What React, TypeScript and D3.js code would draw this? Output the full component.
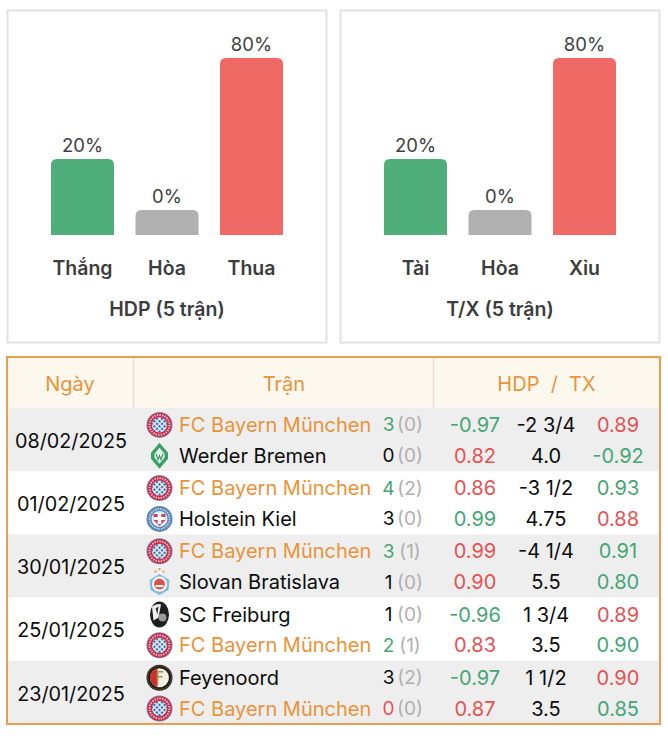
import React from 'react';
import * as d3 from 'd3';

const W = 668;
const H = 736;

const hdpLabels = ['Thắng', 'Hòa', 'Thua'];
const hdpValues = [20, 0, 80];
const txLabels = ['Tài', 'Hòa', 'Xỉu'];
const txValues = [20, 0, 80];
const barColors = ['#50ae7b', '#b0b0b0', '#ef6a65'];

const dates = ['08/02/2025', '01/02/2025', '30/01/2025', '25/01/2025', '23/01/2025'];
const homeTeams = ['FC Bayern München', 'FC Bayern München', 'FC Bayern München', 'SC Freiburg', 'Feyenoord'];
const awayTeams = ['Werder Bremen', 'Holstein Kiel', 'Slovan Bratislava', 'FC Bayern München', 'FC Bayern München'];
const homeGoals = [3, 4, 3, 1, 3];
const homeHalf = [0, 2, 1, 0, 2];
const awayGoals = [0, 3, 1, 2, 0];
const awayHalf = [0, 0, 0, 1, 0];
const homeOdds = ['-0.97', '0.86', '0.99', '-0.96', '-0.97'];
const homeLine = ['-2 3/4', '-3 1/2', '-4 1/4', '1 3/4', '1 1/2'];
const homeOver = ['0.89', '0.93', '0.91', '0.89', '0.90'];
const awayOdds = ['0.82', '0.99', '0.90', '0.83', '0.87'];
const awayLine = ['4.0', '4.75', '5.5', '3.5', '3.5'];
const awayOver = ['-0.92', '0.88', '0.80', '0.90', '0.85'];

const FONT = 'Inter, "Noto Sans", sans-serif';
const ORANGE = '#e9933a';
const GREEN = '#45a672';
const RED = '#e55252';
const INK = '#0c0c0c';
const BAYERN = 'FC Bayern München';

// cell colours
const homeGoalColors = [GREEN, GREEN, GREEN, INK, INK];
const awayGoalColors = [INK, INK, INK, GREEN, RED];
const homeOddsColors = [GREEN, RED, RED, GREEN, GREEN];
const homeOverColors = [RED, GREEN, GREEN, RED, RED];
const awayOddsColors = [RED, GREEN, RED, RED, RED];
const awayOverColors = [GREEN, RED, GREEN, GREEN, GREEN];

// tops, the empty bar keeps a minimum height
const barY = d3.scaleLinear().domain([0, 20, 80]).range([210, 159, 58]);
const BASE_Y = 235;

function BarPanel({ x, labels, values, title }: { x: number; labels: string[]; values: number[]; title: string }) {
  const band = d3.scaleBand<string>()
    .domain(labels.map((_, i) => String(i)))
    .range([x + 44, x + 276])
    .paddingInner(0.2544)
    .paddingOuter(0);
  return (
    <g fontFamily={FONT}>
      <rect x={x + 0.5} y={10.5} width={319} height={332} fill="#fff" stroke="#e2e2e2" strokeWidth={2} />
      {values.map((v, i) => {
        const bx = band(String(i))!;
        const bw = band.bandwidth();
        const top = barY(v);
        const r = 6;
        const cx = bx + bw / 2;
        return (
          <g key={i}>
            <path
              d={`M${bx},${BASE_Y}V${top + r}Q${bx},${top} ${bx + r},${top}H${bx + bw - r}Q${bx + bw},${top} ${bx + bw},${top + r}V${BASE_Y}Z`}
              fill={barColors[i]}
            />
            <text x={cx} y={top - 7} textAnchor="middle" fontSize={18.5} fill="#3f3f3f">{v}%</text>
            <text x={cx} y={275} textAnchor="middle" fontSize={19.5} fontWeight={600} fill="#3d3d3d">{labels[i]}</text>
          </g>
        );
      })}
      <text x={x + 160} y={316} textAnchor="middle" fontSize={19.5} fontWeight={600} fill="#3d3d3d">{title}</text>
    </g>
  );
}

function Logo({ team, cx, cy }: { team: string; cx: number; cy: number }) {
  if (team === BAYERN) {
    return (
      <g transform={`translate(${cx},${cy})`}>
        <circle r={13} fill="#7f86b4" />
        <circle r={12.2} fill="#c62c49" />
        <circle r={10} fill="none" stroke="#eec3cb" strokeWidth={2} strokeDasharray="1.4 1.2" />
        <circle r={7.6} fill="url(#bayernLoz)" />
      </g>
    );
  }
  if (team === 'Werder Bremen') {
    return (
      <g transform={`translate(${cx},${cy})`}>
        <path d="M0,-13L8.5,-3V3L0,13L-8.5,3V-3Z" fill="#3a9f63" />
        <path d="M0,-8L5,-2V2L0,8L-5,2V-2Z" fill="#e9f4ed" />
        <path d="M-3.5,-2L-1.5,4L0,0L1.5,4L3.5,-2" fill="none" stroke="#3a9f63" strokeWidth={1.2} />
      </g>
    );
  }
  if (team === 'Holstein Kiel') {
    return (
      <g transform={`translate(${cx},${cy})`}>
        <circle r={13} fill="#5a89b8" />
        <circle r={10} fill="none" stroke="#cfdcea" strokeWidth={1.5} strokeDasharray="1.5 1" />
        <circle r={8} fill="#e5ecf4" />
        <path d="M-6,-5H6V1L0,7L-6,1Z" fill="#c0485a" />
        <path d="M-1.8,-5H1.8V5H-1.8ZM-6,-2H6V1H-6Z" fill="#fff" />
      </g>
    );
  }
  if (team === 'Slovan Bratislava') {
    return (
      <g transform={`translate(${cx},${cy})`}>
        <path d="M0,-8L10,-2L9,8L0,13L-9,8L-10,-2Z" fill="#7dbbe2" />
        <circle r={7.5} cy={2} fill="#fff" />
        <circle r={5.5} cy={2} fill="#d9534a" />
        <path d="M-4,3H4V5H-4Z" fill="#fff" />
        <circle cx={-4} cy={-10.5} r={1.1} fill="#d9a05a" />
        <circle cx={0} cy={-13} r={1.2} fill="#d9a05a" />
        <circle cx={4} cy={-10.5} r={1.1} fill="#d9a05a" />
      </g>
    );
  }
  if (team === 'SC Freiburg') {
    return (
      <g transform={`translate(${cx},${cy})`}>
        <ellipse rx={9.5} ry={13} fill="#1e1e1e" />
        <path d="M-7.5,-8Q-1,-11.5 1.5,-10L-1,3L-6,6Z" fill="#f0f0f0" />
        <path d="M-4,-6L-1,-8L-2,0Z" fill="#333" />
        <circle cx={3} cy={3} r={4} fill="#9a9a9a" />
      </g>
    );
  }
  return (
    <g transform={`translate(${cx},${cy})`}>
      <circle r={13} fill="#1c1a16" />
      <circle r={12} fill="none" stroke="#6e5a34" strokeWidth={0.8} />
      <circle r={9.5} fill="#f4efe4" />
      <path d="M-9.5,0A9.5,9.5 0 0 1 -2,-9.3V9.3A9.5,9.5 0 0 1 -9.5,0Z" fill="#c8322e" />
      <path d="M-2,-6H4M-2,-1H3M-2,-6V7" stroke="#b08a4a" strokeWidth={1.6} fill="none" />
    </g>
  );
}

function TeamRow({ team, goals, half, goalColor, odds, oddsFill, line, over, overFill, y }: any) {
  return (
    <g fontSize={20} dominantBaseline="central">
      <Logo team={team} cx={159.5} cy={y} />
      <text x={179} y={y} fill={team === BAYERN ? ORANGE : INK}>{team}</text>
      <text x={388.5} y={y} textAnchor="middle" fontSize={19} fill={goalColor}>{goals}</text>
      <text x={410} y={y} textAnchor="middle" fontSize={19} fill="#b0b0b0">({half})</text>
      <text x={475} y={y} textAnchor="middle" fill={oddsFill}>{odds}</text>
      <text x={546} y={y} textAnchor="middle" fill={INK}>{line}</text>
      <text x={618} y={y} textAnchor="middle" fill={overFill}>{over}</text>
    </g>
  );
}

export default function App() {
  const rowY = d3.scaleBand<string>().domain(dates).range([408, 724]);
  const rh = rowY.bandwidth();
  return (
    <svg width={W} height={H} style={{ position: 'absolute', left: 0, top: 0, background: '#fff' }}>
      <defs>
        <pattern id="bayernLoz" width={3.6} height={3.6} patternUnits="userSpaceOnUse" patternTransform="rotate(45)">
          <rect width={3.6} height={3.6} fill="#e8eef7" />
          <rect width={2.2} height={2.2} fill="#2f6db5" />
        </pattern>
      </defs>
      <BarPanel x={7} labels={hdpLabels} values={hdpValues} title="HDP (5 trận)" />
      <BarPanel x={340} labels={txLabels} values={txValues} title="T/X (5 trận)" />

      <g fontFamily={FONT}>
        <rect x={7} y={357} width={653} height={51} fill="#fdf8ee" />
        {dates.map((d, i) => (
          <rect key={d} x={7} y={rowY(d)!} width={653} height={rh} fill={i % 2 === 0 ? '#eeeeee' : '#fff'} />
        ))}
        <path d="M133.5,358V408M433.5,358V408" stroke="#e3e0da" strokeWidth={1.5} />
        <text x={70} y={384} textAnchor="middle" dominantBaseline="central" fontSize={20} fill={ORANGE}>Ngày</text>
        <text x={284} y={384} textAnchor="middle" dominantBaseline="central" fontSize={20} fill={ORANGE}>Trận</text>
        <text x={546.5} y={384} textAnchor="middle" dominantBaseline="central" fontSize={20} fill={ORANGE} xmlSpace="preserve">HDP  /  TX</text>
        {dates.map((d, i) => {
          const top = rowY(d)!;
          return (
            <g key={d}>
              <text x={71} y={top + 32.8} textAnchor="middle" dominantBaseline="central" fontSize={19.8} fill={INK}>{d}</text>
              <TeamRow team={homeTeams[i]} goals={homeGoals[i]} half={homeHalf[i]} goalColor={homeGoalColors[i]}
                odds={homeOdds[i]} oddsFill={homeOddsColors[i]} line={homeLine[i]} over={homeOver[i]} overFill={homeOverColors[i]} y={top + 16.9} />
              <TeamRow team={awayTeams[i]} goals={awayGoals[i]} half={awayHalf[i]} goalColor={awayGoalColors[i]}
                odds={awayOdds[i]} oddsFill={awayOddsColors[i]} line={awayLine[i]} over={awayOver[i]} overFill={awayOverColors[i]} y={top + 47.7} />
            </g>
          );
        })}
        <rect x={7} y={357} width={653} height={367} fill="none" stroke={ORANGE} strokeOpacity={0.9} strokeWidth={2} />
      </g>
    </svg>
  );
}
